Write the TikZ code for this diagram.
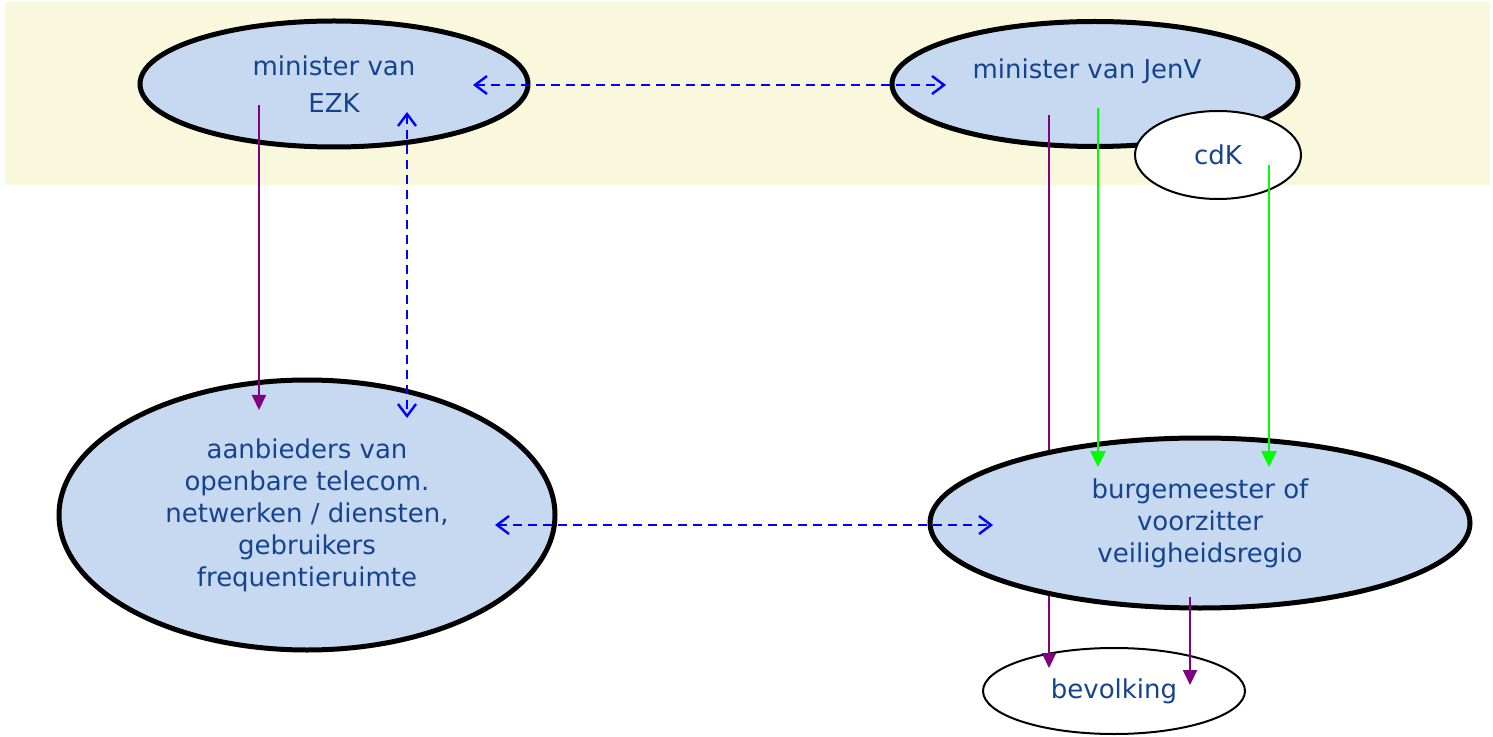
\documentclass[tikz,border=0pt]{standalone}
\usepackage{fontspec}
\setmainfont{DejaVu Sans}
\usetikzlibrary{shapes.geometric,arrows.meta,calc}
\definecolor{band}{HTML}{FAF8DC}
\definecolor{ellfill}{HTML}{C6D9F0}
\definecolor{txtblue}{HTML}{15448F}
\definecolor{purp}{HTML}{800080}
\definecolor{grn}{HTML}{00FF00}
\definecolor{blu}{HTML}{0000FF}
\begin{document}
\begin{tikzpicture}[x=0.5pt,y=-0.5pt,
  ell/.style={ellipse,draw=black,line width=2.5pt,fill=ellfill,inner sep=0pt,
    text=txtblue,align=center,font=\fontsize{13pt}{16pt}\selectfont},
  wellp/.style={ellipse,draw=black,line width=1pt,fill=white,inner sep=0pt,
    text=txtblue,align=center,font=\fontsize{13pt}{16pt}\selectfont},
  txt/.style={text=txtblue,align=center,inner sep=0pt,font=\fontsize{13pt}{16pt}\selectfont},
  parr/.style={draw=purp,line width=1pt,-{Triangle[width=7pt,length=7.5pt]}},
  garr/.style={draw=grn,line width=1.4pt,-{Triangle[width=7.5pt,length=8pt]}},
  barr/.style={draw=blu,line width=1.2pt,dash pattern=on 4.5pt off 3pt,
    {Straight Barb[width=9pt,length=6pt,line width=1.2pt]}-{Straight Barb[width=9pt,length=6pt,line width=1.2pt]}}
]
\useasboundingbox (0,0) rectangle (1493,737);
\fill[band] (5,2) rectangle (1490,185);

\node[ell,minimum width=194pt,minimum height=63pt,font=\fontsize{13pt}{18.5pt}\selectfont] (ezk) at (334,84) {minister van\\EZK};
\node[ell,minimum width=203pt,minimum height=62.5pt] (jenv) at (1095,84) {};
\node[txt] (jenvt) at (1087,71) {minister van JenV};
\node[wellp,minimum width=83pt,minimum height=44pt] (cdk) at (1218,155) {cdK};
\node[wellp,minimum width=131pt,minimum height=43pt] (bev) at (1114,691) {bevolking};
\node[ell,minimum width=248pt,minimum height=135pt] (aanb) at (307,515)
  {aanbieders van\\openbare telecom.\\netwerken / diensten,\\gebruikers\\frequentieruimte};

\draw[parr] ($(jenv)+(-46,31)$) -- ($(bev)+(-65,-23)$);

\node[ell,minimum width=270pt,minimum height=85pt] (burg) at (1200,523)
  {burgemeester of\\voorzitter\\veiligheidsregio};

\draw[parr] ($(ezk)+(-75,21)$) -- ($(aanb)+(-48,-105)$);
\draw[barr] ($(ezk)+(73,28)$) -- ($(aanb)+(100,-97)$);
\draw[barr] ($(ezk)+(139,1)$) -- ($(jenv)+(-149,1)$);
\draw[barr] ($(aanb)+(188,10)$) -- ($(burg)+(-207,2)$);
\draw[garr] ($(jenv)+(3,24)$) -- ($(burg)+(-102,-56)$);
\draw[garr] ($(cdk)+(51,10)$) -- ($(burg)+(69,-56)$);
\draw[parr] ($(burg)+(-10,74)$) -- ($(bev)+(76,-6)$);
\end{tikzpicture}
\end{document}
